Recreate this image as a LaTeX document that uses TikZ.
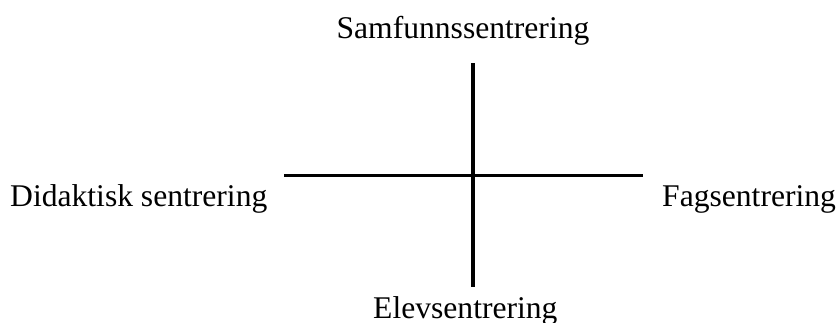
\documentclass[tikz,border=0pt]{standalone}
\usepackage{fontspec}
\setmainfont{Liberation Serif}
\tikzset{
  % axis lines of the cross
  axisline/.style = {line width=3.5pt, black},
  % labels at the four ends
  pole/.style     = {inner sep=0pt, anchor=base, font=\fontsize{31.6}{38}\selectfont},
}

\begin{document}
\begin{tikzpicture}[x=1pt,y=-1pt]
\useasboundingbox (0,0) rectangle (837,322);
% ends of the two axes
\coordinate (top)    at (473,63);
\coordinate (bottom) at (473,287);
\coordinate (left)   at (284,175.5);
\coordinate (right)  at (643,175.5);
\draw[axisline] (top) -- (bottom);
\draw[axisline] (left) -- (right);
% labels
\node[pole] (samfunn) at (463,38) {Samfunnssentrering};
\node[pole, anchor=base west] (didaktisk) at (10,206) {Didaktisk sentrering};
\node[pole, anchor=base west] (fag) at (662,206) {Fagsentrering};
\node[pole, anchor=base west] (elev) at (373,318) {Elevsentrering};
\end{tikzpicture}
\end{document}
